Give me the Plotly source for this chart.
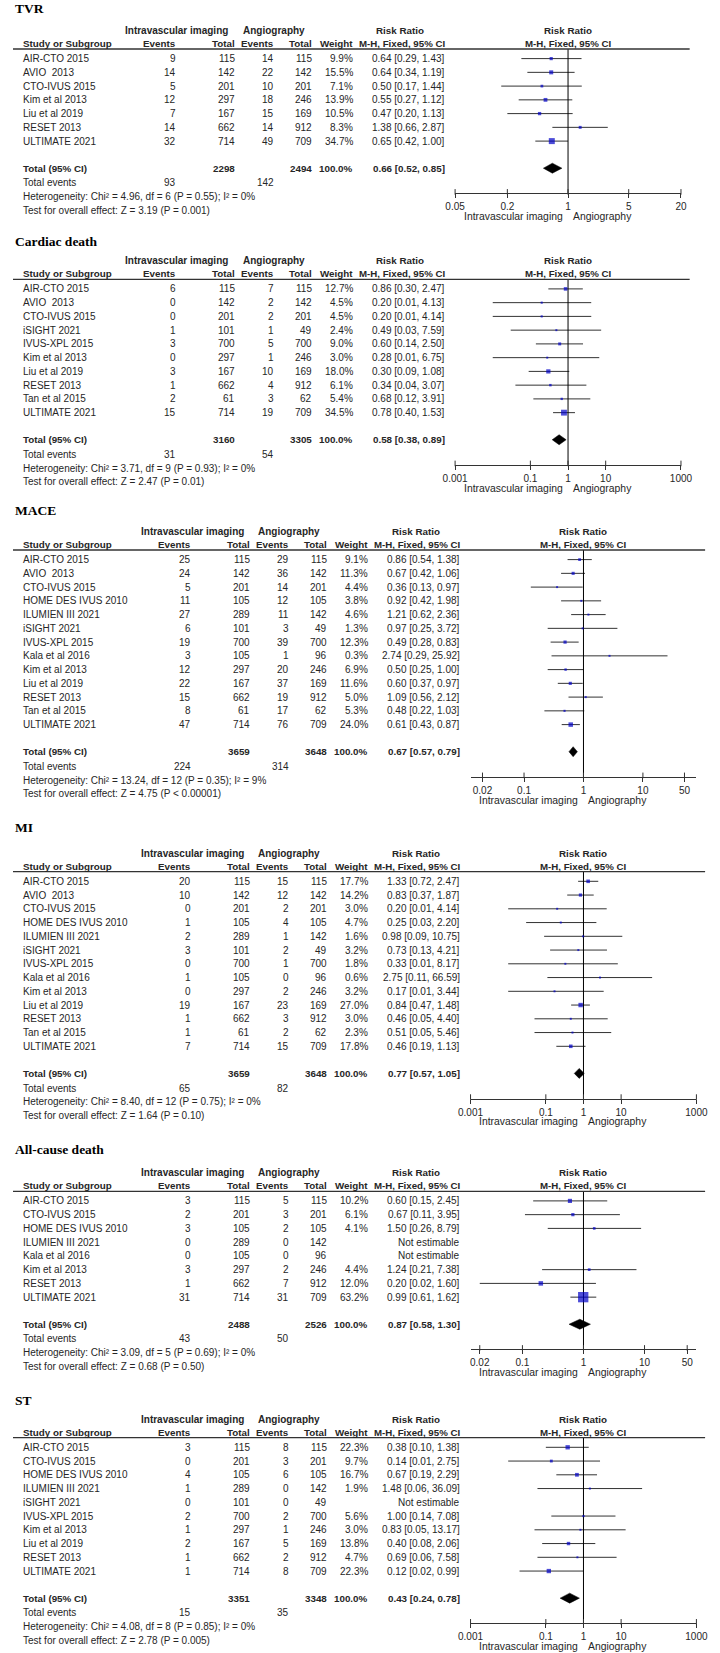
import math
import plotly.graph_objects as go

# ------------------------------------------------------------------ data
TVR_STUDIES = ["AIR-CTO 2015", "AVIO  2013", "CTO-IVUS 2015", "Kim et al 2013", "Liu et al 2019", "RESET 2013", "ULTIMATE 2021"]
TVR_EV_IMG = [9, 14, 5, 12, 7, 14, 32]
TVR_N_IMG = [115, 142, 201, 297, 167, 662, 714]
TVR_EV_ANG = [14, 22, 10, 18, 15, 14, 49]
TVR_N_ANG = [115, 142, 201, 246, 169, 912, 709]
TVR_WEIGHT = [9.9, 15.5, 7.1, 13.9, 10.5, 8.3, 34.7]
TVR_RR = [0.64, 0.64, 0.50, 0.55, 0.47, 1.38, 0.65]
TVR_LO = [0.29, 0.34, 0.17, 0.27, 0.20, 0.66, 0.42]
TVR_HI = [1.43, 1.19, 1.44, 1.12, 1.13, 2.87, 1.00]
TVR_TOTAL_N = [2298, 2494]
TVR_POOLED = [0.66, 0.52, 0.85]
TVR_TOTAL_EVENTS = [93, 142]
TVR_HET = "Heterogeneity: Chi² = 4.96, df = 6 (P = 0.55); I² = 0%"
TVR_TEST = "Test for overall effect: Z = 3.19 (P = 0.001)"
TVR_TICKS = [0.05, 0.2, 1, 5, 20]

CD_STUDIES = ["AIR-CTO 2015", "AVIO  2013", "CTO-IVUS 2015", "iSIGHT 2021", "IVUS-XPL 2015", "Kim et al 2013", "Liu et al 2019", "RESET 2013", "Tan et al 2015", "ULTIMATE 2021"]
CD_EV_IMG = [6, 0, 0, 1, 3, 0, 3, 1, 2, 15]
CD_N_IMG = [115, 142, 201, 101, 700, 297, 167, 662, 61, 714]
CD_EV_ANG = [7, 2, 2, 1, 5, 1, 10, 4, 3, 19]
CD_N_ANG = [115, 142, 201, 49, 700, 246, 169, 912, 62, 709]
CD_WEIGHT = [12.7, 4.5, 4.5, 2.4, 9.0, 3.0, 18.0, 6.1, 5.4, 34.5]
CD_RR = [0.86, 0.20, 0.20, 0.49, 0.60, 0.28, 0.30, 0.34, 0.68, 0.78]
CD_LO = [0.30, 0.01, 0.01, 0.03, 0.14, 0.01, 0.09, 0.04, 0.12, 0.40]
CD_HI = [2.47, 4.13, 4.14, 7.59, 2.50, 6.75, 1.08, 3.07, 3.91, 1.53]
CD_TOTAL_N = [3160, 3305]
CD_POOLED = [0.58, 0.38, 0.89]
CD_TOTAL_EVENTS = [31, 54]
CD_HET = "Heterogeneity: Chi² = 3.71, df = 9 (P = 0.93); I² = 0%"
CD_TEST = "Test for overall effect: Z = 2.47 (P = 0.01)"
CD_TICKS = [0.001, 0.1, 1, 10, 1000]

MACE_STUDIES = ["AIR-CTO 2015", "AVIO  2013", "CTO-IVUS 2015", "HOME DES IVUS 2010", "ILUMIEN III 2021", "iSIGHT 2021", "IVUS-XPL 2015", "Kala et al 2016", "Kim et al 2013", "Liu et al 2019", "RESET 2013", "Tan et al 2015", "ULTIMATE 2021"]
MACE_EV_IMG = [25, 24, 5, 11, 27, 6, 19, 3, 12, 22, 15, 8, 47]
MACE_N_IMG = [115, 142, 201, 105, 289, 101, 700, 105, 297, 167, 662, 61, 714]
MACE_EV_ANG = [29, 36, 14, 12, 11, 3, 39, 1, 20, 37, 19, 17, 76]
MACE_N_ANG = [115, 142, 201, 105, 142, 49, 700, 96, 246, 169, 912, 62, 709]
MACE_WEIGHT = [9.1, 11.3, 4.4, 3.8, 4.6, 1.3, 12.3, 0.3, 6.9, 11.6, 5.0, 5.3, 24.0]
MACE_RR = [0.86, 0.67, 0.36, 0.92, 1.21, 0.97, 0.49, 2.74, 0.50, 0.60, 1.09, 0.48, 0.61]
MACE_LO = [0.54, 0.42, 0.13, 0.42, 0.62, 0.25, 0.28, 0.29, 0.25, 0.37, 0.56, 0.22, 0.43]
MACE_HI = [1.38, 1.06, 0.97, 1.98, 2.36, 3.72, 0.83, 25.92, 1.00, 0.97, 2.12, 1.03, 0.87]
MACE_TOTAL_N = [3659, 3648]
MACE_POOLED = [0.67, 0.57, 0.79]
MACE_TOTAL_EVENTS = [224, 314]
MACE_HET = "Heterogeneity: Chi² = 13.24, df = 12 (P = 0.35); I² = 9%"
MACE_TEST = "Test for overall effect: Z = 4.75 (P < 0.00001)"
MACE_TICKS = [0.02, 0.1, 1, 10, 50]

MI_STUDIES = ["AIR-CTO 2015", "AVIO  2013", "CTO-IVUS 2015", "HOME DES IVUS 2010", "ILUMIEN III 2021", "iSIGHT 2021", "IVUS-XPL 2015", "Kala et al 2016", "Kim et al 2013", "Liu et al 2019", "RESET 2013", "Tan et al 2015", "ULTIMATE 2021"]
MI_EV_IMG = [20, 10, 0, 1, 2, 3, 0, 1, 0, 19, 1, 1, 7]
MI_N_IMG = [115, 142, 201, 105, 289, 101, 700, 105, 297, 167, 662, 61, 714]
MI_EV_ANG = [15, 12, 2, 4, 1, 2, 1, 0, 2, 23, 3, 2, 15]
MI_N_ANG = [115, 142, 201, 105, 142, 49, 700, 96, 246, 169, 912, 62, 709]
MI_WEIGHT = [17.7, 14.2, 3.0, 4.7, 1.6, 3.2, 1.8, 0.6, 3.2, 27.0, 3.0, 2.3, 17.8]
MI_RR = [1.33, 0.83, 0.20, 0.25, 0.98, 0.73, 0.33, 2.75, 0.17, 0.84, 0.46, 0.51, 0.46]
MI_LO = [0.72, 0.37, 0.01, 0.03, 0.09, 0.13, 0.01, 0.11, 0.01, 0.47, 0.05, 0.05, 0.19]
MI_HI = [2.47, 1.87, 4.14, 2.20, 10.75, 4.21, 8.17, 66.59, 3.44, 1.48, 4.40, 5.46, 1.13]
MI_TOTAL_N = [3659, 3648]
MI_POOLED = [0.77, 0.57, 1.05]
MI_TOTAL_EVENTS = [65, 82]
MI_HET = "Heterogeneity: Chi² = 8.40, df = 12 (P = 0.75); I² = 0%"
MI_TEST = "Test for overall effect: Z = 1.64 (P = 0.10)"
MI_TICKS = [0.001, 0.1, 1, 10, 1000]

ACD_STUDIES = ["AIR-CTO 2015", "CTO-IVUS 2015", "HOME DES IVUS 2010", "ILUMIEN III 2021", "Kala et al 2016", "Kim et al 2013", "RESET 2013", "ULTIMATE 2021"]
ACD_EV_IMG = [3, 2, 3, 0, 0, 3, 1, 31]
ACD_N_IMG = [115, 201, 105, 289, 105, 297, 662, 714]
ACD_EV_ANG = [5, 3, 2, 0, 0, 2, 7, 31]
ACD_N_ANG = [115, 201, 105, 142, 96, 246, 912, 709]
ACD_WEIGHT = [10.2, 6.1, 4.1, None, None, 4.4, 12.0, 63.2]
ACD_RR = [0.60, 0.67, 1.50, None, None, 1.24, 0.20, 0.99]
ACD_LO = [0.15, 0.11, 0.26, None, None, 0.21, 0.02, 0.61]
ACD_HI = [2.45, 3.95, 8.79, None, None, 7.38, 1.60, 1.62]
ACD_TOTAL_N = [2488, 2526]
ACD_POOLED = [0.87, 0.58, 1.30]
ACD_TOTAL_EVENTS = [43, 50]
ACD_HET = "Heterogeneity: Chi² = 3.09, df = 5 (P = 0.69); I² = 0%"
ACD_TEST = "Test for overall effect: Z = 0.68 (P = 0.50)"
ACD_TICKS = [0.02, 0.1, 1, 10, 50]

ST_STUDIES = ["AIR-CTO 2015", "CTO-IVUS 2015", "HOME DES IVUS 2010", "ILUMIEN III 2021", "iSIGHT 2021", "IVUS-XPL 2015", "Kim et al 2013", "Liu et al 2019", "RESET 2013", "ULTIMATE 2021"]
ST_EV_IMG = [3, 0, 4, 1, 0, 2, 1, 2, 1, 1]
ST_N_IMG = [115, 201, 105, 289, 101, 700, 297, 167, 662, 714]
ST_EV_ANG = [8, 3, 6, 0, 0, 2, 1, 5, 2, 8]
ST_N_ANG = [115, 201, 105, 142, 49, 700, 246, 169, 912, 709]
ST_WEIGHT = [22.3, 9.7, 16.7, 1.9, None, 5.6, 3.0, 13.8, 4.7, 22.3]
ST_RR = [0.38, 0.14, 0.67, 1.48, None, 1.00, 0.83, 0.40, 0.69, 0.12]
ST_LO = [0.10, 0.01, 0.19, 0.06, None, 0.14, 0.05, 0.08, 0.06, 0.02]
ST_HI = [1.38, 2.75, 2.29, 36.09, None, 7.08, 13.17, 2.06, 7.58, 0.99]
ST_TOTAL_N = [3351, 3348]
ST_POOLED = [0.43, 0.24, 0.78]
ST_TOTAL_EVENTS = [15, 35]
ST_HET = "Heterogeneity: Chi² = 4.08, df = 8 (P = 0.85); I² = 0%"
ST_TEST = "Test for overall effect: Z = 2.78 (P = 0.005)"
ST_TICKS = [0.001, 0.1, 1, 10, 1000]

PANEL_TITLES = ["TVR", "Cardiac death", "MACE", "MI", "All-cause death", "ST"]
GROUP_LABELS = ["Intravascular imaging", "Angiography"]

PANELS = [
    dict(studies=TVR_STUDIES, ev1=TVR_EV_IMG, n1=TVR_N_IMG, ev2=TVR_EV_ANG, n2=TVR_N_ANG, w=TVR_WEIGHT,
         rr=TVR_RR, lo=TVR_LO, hi=TVR_HI, tot=TVR_TOTAL_N, pooled=TVR_POOLED, tev=TVR_TOTAL_EVENTS,
         het=TVR_HET, test=TVR_TEST, ticks=TVR_TICKS),
    dict(studies=CD_STUDIES, ev1=CD_EV_IMG, n1=CD_N_IMG, ev2=CD_EV_ANG, n2=CD_N_ANG, w=CD_WEIGHT,
         rr=CD_RR, lo=CD_LO, hi=CD_HI, tot=CD_TOTAL_N, pooled=CD_POOLED, tev=CD_TOTAL_EVENTS,
         het=CD_HET, test=CD_TEST, ticks=CD_TICKS),
    dict(studies=MACE_STUDIES, ev1=MACE_EV_IMG, n1=MACE_N_IMG, ev2=MACE_EV_ANG, n2=MACE_N_ANG, w=MACE_WEIGHT,
         rr=MACE_RR, lo=MACE_LO, hi=MACE_HI, tot=MACE_TOTAL_N, pooled=MACE_POOLED, tev=MACE_TOTAL_EVENTS,
         het=MACE_HET, test=MACE_TEST, ticks=MACE_TICKS),
    dict(studies=MI_STUDIES, ev1=MI_EV_IMG, n1=MI_N_IMG, ev2=MI_EV_ANG, n2=MI_N_ANG, w=MI_WEIGHT,
         rr=MI_RR, lo=MI_LO, hi=MI_HI, tot=MI_TOTAL_N, pooled=MI_POOLED, tev=MI_TOTAL_EVENTS,
         het=MI_HET, test=MI_TEST, ticks=MI_TICKS),
    dict(studies=ACD_STUDIES, ev1=ACD_EV_IMG, n1=ACD_N_IMG, ev2=ACD_EV_ANG, n2=ACD_N_ANG, w=ACD_WEIGHT,
         rr=ACD_RR, lo=ACD_LO, hi=ACD_HI, tot=ACD_TOTAL_N, pooled=ACD_POOLED, tev=ACD_TOTAL_EVENTS,
         het=ACD_HET, test=ACD_TEST, ticks=ACD_TICKS),
    dict(studies=ST_STUDIES, ev1=ST_EV_IMG, n1=ST_N_IMG, ev2=ST_EV_ANG, n2=ST_N_ANG, w=ST_WEIGHT,
         rr=ST_RR, lo=ST_LO, hi=ST_HI, tot=ST_TOTAL_N, pooled=ST_POOLED, tev=ST_TOTAL_EVENTS,
         het=ST_HET, test=ST_TEST, ticks=ST_TICKS),
]

# ------------------------------------------------------------------ layout / style
W, H = 720, 1653
FONT = "Liberation Sans, Arial, sans-serif"
SERIF = "Liberation Serif, Times New Roman, serif"
TXT = "#262626"
BLUE = "#0000C8"
CI_COLOR = "#333333"
FS = 10.0
FSB = 9.8

ROW0, ROWH = 9.6, 13.75
STYLE = [
    dict(title_y=8.5, line_y=49.0, off=0, xr=(math.log10(0.05), math.log10(20)), k=1.02),
    dict(title_y=241, line_y=279.3, off=0, xr=(-3, 3), k=1.0),
    dict(title_y=510, line_y=550.0, off=16, xr=(-1.9, 1.9), k=0.92),
    dict(title_y=827.3, line_y=871.7, off=16, xr=(-3, 3), k=0.85),
    dict(title_y=1149, line_y=1191.3, off=16, xr=(-1.85, 1.85), k=1.3),
    dict(title_y=1400, line_y=1437.7, off=16, xr=(-3, 3), k=0.92),
]
COL = dict(name=9.3, ev1=169.5, n1=230.5, ev2=271, n2=310.5, w=353, rr=448.5,
           h_img=169.5, h_ang=270, h_rr=401, line_end=701, ax0=458, ax1=692)

fig = go.Figure()
annotations = []
shapes = []


def ann(x, y, text, anchor="left", bold=False, size=None, xref="x", color=TXT, family=FONT, xshift=0):
    if size is None:
        size = FSB if bold else FS
    annotations.append(dict(
        x=x, y=y, xref=xref, yref="y", text=(f"<b>{text}</b>" if bold else text),
        showarrow=False, xanchor=anchor, yanchor="middle", borderpad=0, xshift=xshift,
        font=dict(family=family, size=size, color=color)))


def fmt_rr(v, lo, hi):
    return f"{v:.2f} [{lo:.2f}, {hi:.2f}]"


for i, (P, S) in enumerate(zip(PANELS, STYLE)):
    ax = f"x{i + 2}"
    off = S["off"]
    ly = S["line_y"]
    n = len(P["studies"])
    rows = [ly + ROW0 + j * ROWH for j in range(n)]
    total_y = ly + ROW0 + (n + 0.97) * ROWH
    tev_y = total_y + 14.7
    het_y = tev_y + 13.7
    test_y = het_y + 13.85
    axis_y = total_y + 25.2
    c = {k: (v + off if k != "name" else v) for k, v in COL.items()}

    # title
    ann(1, S["title_y"], PANEL_TITLES[i], bold=True, size=13.5, family=SERIF, color="black")
    # headers
    h1, h2 = ly - 18.6, ly - 5.6
    ann(c["h_img"], h1, GROUP_LABELS[0], anchor="center", bold=True, size=10.0)
    ann(c["h_ang"], h1, GROUP_LABELS[1], anchor="center", bold=True, size=10.0)
    ann(c["h_rr"], h1, "Risk Ratio", anchor="center", bold=True)
    ann(0, h1, "Risk Ratio", anchor="center", bold=True, xref=ax)
    ann(c["name"], h2, "Study or Subgroup", bold=True)
    ann(c["ev1"], h2, "Events", anchor="right", bold=True)
    ann(c["n1"], h2, "Total", anchor="right", bold=True)
    ann(c["ev2"], h2, "Events", anchor="right", bold=True)
    ann(c["n2"], h2, "Total", anchor="right", bold=True)
    ann(c["w"], h2, "Weight", anchor="right", bold=True)
    ann(c["rr"], h2, "M-H, Fixed, 95% CI", anchor="right", bold=True, size=9.7)
    ann(0, h2, "M-H, Fixed, 95% CI", anchor="center", bold=True, xref=ax, size=9.7)
    shapes.append(dict(type="line", xref="x", yref="y", x0=0, x1=c["line_end"], y0=ly, y1=ly,
                       line=dict(color="#333333", width=1.3)))

    # study rows
    for j in range(n):
        y = rows[j]
        ann(c["name"], y, P["studies"][j])
        ann(c["ev1"], y, str(P["ev1"][j]), anchor="right")
        ann(c["n1"], y, str(P["n1"][j]), anchor="right")
        ann(c["ev2"], y, str(P["ev2"][j]), anchor="right")
        ann(c["n2"], y, str(P["n2"][j]), anchor="right")
        if P["w"][j] is not None:
            ann(c["w"], y, f"{P['w'][j]:.1f}%", anchor="right")
        if P["rr"][j] is not None:
            ann(c["rr"], y, fmt_rr(P["rr"][j], P["lo"][j], P["hi"][j]), anchor="right")
        else:
            ann(c["rr"], y, "Not estimable", anchor="right")

    # totals
    ann(c["name"], total_y, "Total (95% CI)", bold=True)
    ann(c["n1"], total_y, str(P["tot"][0]), anchor="right", bold=True)
    ann(c["n2"], total_y, str(P["tot"][1]), anchor="right", bold=True)
    ann(c["w"], total_y, "100.0%", anchor="right", bold=True)
    ann(c["rr"], total_y, fmt_rr(*P["pooled"]), anchor="right", bold=True)
    ann(c["name"], tev_y, "Total events")
    ann(c["ev1"], tev_y, str(P["tev"][0]), anchor="right")
    ann(c["ev2"], tev_y, str(P["tev"][1]), anchor="right")
    ann(c["name"], het_y, P["het"])
    ann(c["name"], test_y, P["test"])

    # axis legend
    ann(0, axis_y + 23.4, GROUP_LABELS[0], anchor="right", xref=ax, xshift=-4, size=10.4)
    ann(0, axis_y + 23.4, GROUP_LABELS[1], anchor="left", xref=ax, xshift=4, size=10.4)

    # ---- forest plot marks
    est_idx = [j for j in range(n) if P["rr"][j] is not None]
    xs, ys = [], []
    for j in est_idx:
        xs += [P["lo"][j], P["hi"][j], None]
        ys += [rows[j], rows[j], None]
    fig.add_trace(go.Scatter(x=xs, y=ys, xaxis=ax, yaxis="y", mode="lines",
                             line=dict(color=CI_COLOR, width=1), hoverinfo="skip", showlegend=False))
    fig.add_trace(go.Scatter(x=[1, 1], y=[ly, axis_y], xaxis=ax, yaxis="y", mode="lines",
                             line=dict(color="black", width=1), hoverinfo="skip", showlegend=False))
    fig.add_trace(go.Scatter(
        x=[P["rr"][j] for j in est_idx], y=[rows[j] for j in est_idx], xaxis=ax, yaxis="y",
        mode="markers", cliponaxis=False,
        marker=dict(symbol="square", color=BLUE, line=dict(width=0),
                    size=[max(2.0, S["k"] * math.sqrt(P["w"][j])) for j in est_idx]),
        hoverinfo="skip", showlegend=False))
    prr, plo, phi = P["pooled"]
    fig.add_trace(go.Scatter(
        x=[plo, prr, phi, prr, plo], y=[total_y, total_y - 5, total_y, total_y + 5, total_y],
        xaxis=ax, yaxis="y", mode="lines", fill="toself", fillcolor="black",
        line=dict(color="black", width=0.5), hoverinfo="skip", showlegend=False))
    fig.add_trace(go.Scatter(
        x=P["ticks"], y=[axis_y - 1.5] * len(P["ticks"]), xaxis=ax, yaxis="y", mode="markers",
        cliponaxis=False, marker=dict(symbol="line-ns", size=4, line=dict(width=1, color="#333333")),
        hoverinfo="skip", showlegend=False))

    fig.layout[f"xaxis{i + 2}"] = dict(
        type="log", range=list(S["xr"]), domain=[(c["ax0"]) / W, (c["ax1"]) / W],
        anchor="free", position=1 - axis_y / H, showline=True, linecolor="#333333", linewidth=1,
        ticks="outside", ticklen=4, tickwidth=1, tickcolor="#333333",
        tickvals=P["ticks"], ticktext=[f"{t:g}" for t in P["ticks"]],
        tickfont=dict(family=FONT, size=10, color=TXT), showgrid=False, zeroline=False,
        fixedrange=True)

fig.update_layout(
    width=W, height=H, margin=dict(l=0, r=0, t=0, b=0),
    paper_bgcolor="white", plot_bgcolor="rgba(0,0,0,0)", showlegend=False,
    xaxis=dict(range=[0, W], domain=[0, 1], visible=False, fixedrange=True),
    yaxis=dict(range=[H, 0], domain=[0, 1], visible=False, anchor="x", fixedrange=True),
    annotations=annotations, shapes=shapes,
)

fig.write_html("out.html", config={"displayModeBar": False},
               post_script="document.body.style.margin='0';document.body.style.overflow='hidden';")
